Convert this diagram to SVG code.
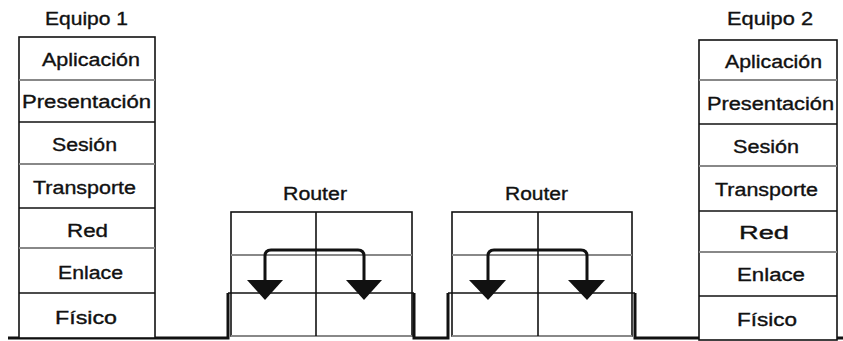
<svg xmlns="http://www.w3.org/2000/svg" width="843" height="341" viewBox="0 0 843 341">
<defs>
<style>
text{font-family:"Liberation Sans",Arial,sans-serif;font-size:18px;fill:#111;stroke:#111;stroke-width:0.35;}
.box{fill:#fff;stroke:#111;stroke-width:1.6;}
.blk{stroke:#111;stroke-width:1.6;fill:none;}
.gry{stroke:#888;stroke-width:2;fill:none;}
.base{stroke:#111;stroke-width:3;fill:none;}
.arr{stroke:#111;stroke-width:3;fill:none;stroke-linejoin:round;}
.head{fill:#111;}
</style>
</defs>
<g id="connectors">
<path class="base" d="M8,338 H228 V293"/>
<path class="base" d="M414,293 V338 H448 V293"/>
<path class="base" d="M635,293 V338 H843"/>
</g>
<g id="equipo1">
<text x="45" y="25" textLength="83" lengthAdjust="spacingAndGlyphs">Equipo 1</text>
<rect class="box" x="19" y="37" width="136" height="301"/>
<line class="gry" x1="19" y1="80" x2="155" y2="80"/>
<line class="blk" x1="19" y1="122" x2="155" y2="122"/>
<line class="gry" x1="19" y1="164" x2="155" y2="164"/>
<line class="blk" x1="19" y1="208" x2="155" y2="208"/>
<line class="gry" x1="19" y1="248" x2="155" y2="248"/>
<line class="blk" x1="19" y1="293" x2="155" y2="293"/>
<text x="42" y="66" textLength="98" lengthAdjust="spacingAndGlyphs">Aplicación</text>
<text x="22" y="108" textLength="129" lengthAdjust="spacingAndGlyphs">Presentación</text>
<text x="52" y="151" textLength="65" lengthAdjust="spacingAndGlyphs">Sesión</text>
<text x="33" y="194" textLength="103" lengthAdjust="spacingAndGlyphs">Transporte</text>
<text x="67" y="237" textLength="41" lengthAdjust="spacingAndGlyphs">Red</text>
<text x="58" y="279" textLength="65" lengthAdjust="spacingAndGlyphs">Enlace</text>
<text x="55" y="324" textLength="62" lengthAdjust="spacingAndGlyphs">Físico</text>
</g>
<g id="equipo2">
<text x="727" y="25" textLength="86" lengthAdjust="spacingAndGlyphs">Equipo 2</text>
<rect class="box" x="699" y="40" width="138" height="300"/>
<line class="gry" x1="699" y1="80" x2="837" y2="80"/>
<line class="blk" x1="699" y1="124" x2="837" y2="124"/>
<line class="gry" x1="699" y1="166" x2="837" y2="166"/>
<line class="blk" x1="699" y1="211" x2="837" y2="211"/>
<line class="gry" x1="699" y1="252" x2="837" y2="252"/>
<line class="blk" x1="699" y1="296" x2="837" y2="296"/>
<text x="725" y="68" textLength="97" lengthAdjust="spacingAndGlyphs">Aplicación</text>
<text x="707" y="110" textLength="127" lengthAdjust="spacingAndGlyphs">Presentación</text>
<text x="733" y="153" textLength="66" lengthAdjust="spacingAndGlyphs">Sesión</text>
<text x="715" y="196" textLength="103" lengthAdjust="spacingAndGlyphs">Transporte</text>
<text x="739" y="239" textLength="50" lengthAdjust="spacingAndGlyphs">Red</text>
<text x="737" y="281" textLength="68" lengthAdjust="spacingAndGlyphs">Enlace</text>
<text x="737" y="326" textLength="60" lengthAdjust="spacingAndGlyphs">Físico</text>
</g>
<g id="router1">
<text x="283" y="200" textLength="64" lengthAdjust="spacingAndGlyphs">Router</text>
<rect class="box" x="231" y="212" width="181" height="124"/>
<line class="gry" x1="231" y1="255" x2="412" y2="255"/>
<line class="blk" x1="228" y1="293" x2="414" y2="293"/>
<line class="gry" x1="231" y1="336" x2="412" y2="336"/>
<line class="blk" x1="316" y1="212" x2="316" y2="336"/>
<path class="arr" d="M265,284 V256 Q265,250 271,250 H358 Q364,250 364,256 V284"/>
<polygon class="head" points="247,280 283,280 265,300"/>
<polygon class="head" points="346,280 382,280 364,300"/>
</g>
<g id="router2">
<text x="505" y="200" textLength="63" lengthAdjust="spacingAndGlyphs">Router</text>
<rect class="box" x="452" y="212" width="180" height="124"/>
<line class="gry" x1="452" y1="255" x2="632" y2="255"/>
<line class="blk" x1="448" y1="293" x2="635" y2="293"/>
<line class="gry" x1="452" y1="336" x2="632" y2="336"/>
<line class="blk" x1="538" y1="212" x2="538" y2="336"/>
<path class="arr" d="M488,284 V256 Q488,250 494,250 H581 Q587,250 587,256 V284"/>
<polygon class="head" points="469,280 506,280 488,300"/>
<polygon class="head" points="568,280 605,280 587,300"/>
</g>
</svg>
